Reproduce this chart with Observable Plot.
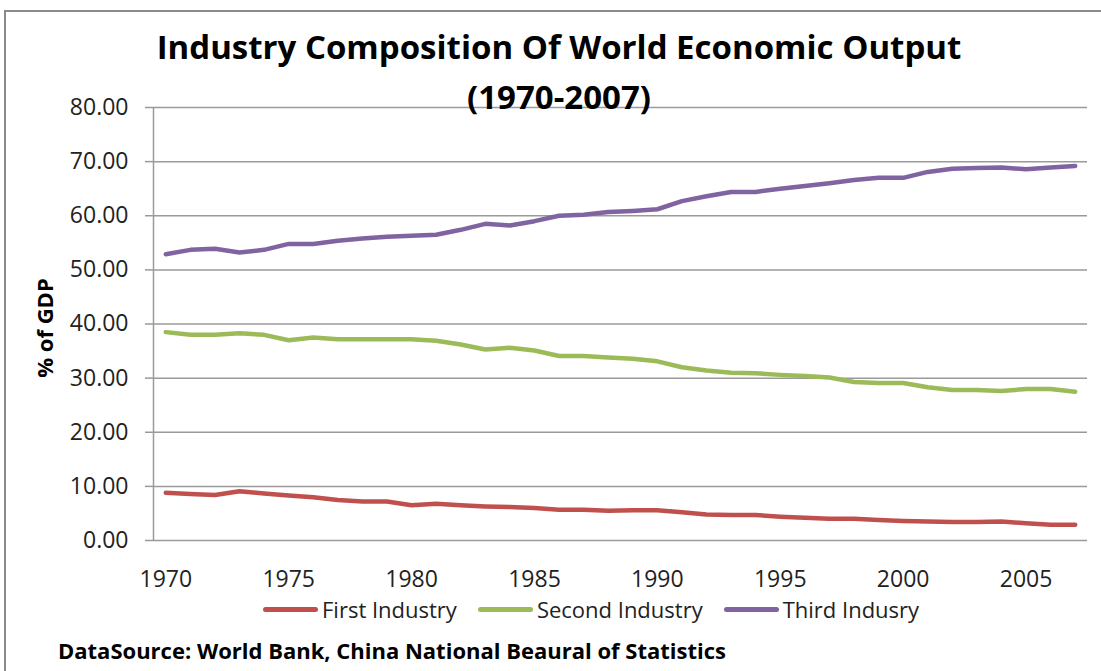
<!DOCTYPE html>
<html>
<head>
<meta charset="utf-8">
<script src="https://cdn.jsdelivr.net/npm/d3@7"></script>
<script src="https://cdn.jsdelivr.net/npm/@observablehq/plot@0.6"></script>
<style>
  html, body { margin: 0; padding: 0; background: #fff; }
  #wrap { position: relative; width: 1101px; height: 671px; overflow: hidden; font-family: "Open Sans", sans-serif; }
  #frame { position: absolute; left: 4px; top: 10px; width: 1200px; height: 800px; border-left: 2px solid #8a8a8a; border-top: 2px solid #8a8a8a; box-sizing: border-box; }
  #title { position: absolute; left: 0; top: 22px; width: 1118px; text-align: center; font-weight: bold; font-size: 33px; line-height: 50px; color: #000; pointer-events: none; z-index: 2; }
  #chart { position: absolute; left: 0; top: 0; }
  #legend { position: absolute; left: 263px; top: 594px; display: flex; gap: 21px; align-items: center; font-size: 22px; color: #222; }
  .item { display: flex; align-items: center; gap: 4px; }
  .sw { width: 55px; height: 5px; border-radius: 3px; }
  #caption { position: absolute; left: 58px; top: 635px; font-weight: bold; font-size: 22px; color: #000; }
</style>
</head>
<body>
<div id="wrap">
  <div id="frame"></div>
  <div id="chart"></div>
  <div id="title">Industry Composition Of World Economic Output<br>(1970-2007)</div>
  <div id="legend"></div>
  <div id="caption">DataSource: World Bank, China National Beaural of Statistics</div>
</div>
<script>
const years = [1970,1971,1972,1973,1974,1975,1976,1977,1978,1979,
               1980,1981,1982,1983,1984,1985,1986,1987,1988,1989,
               1990,1991,1992,1993,1994,1995,1996,1997,1998,1999,
               2000,2001,2002,2003,2004,2005,2006,2007];
const firstIndustry = [8.8,8.6,8.4,9.1,8.7,8.3,8.0,7.5,7.2,7.2,
                       6.5,6.8,6.5,6.3,6.2,6.0,5.7,5.7,5.5,5.6,
                       5.6,5.2,4.8,4.7,4.7,4.4,4.2,4.0,4.0,3.8,
                       3.6,3.5,3.4,3.4,3.5,3.2,2.9,2.9];
const secondIndustry = [38.5,38.0,38.0,38.3,38.0,37.0,37.5,37.2,37.2,37.2,
                        37.2,36.9,36.2,35.3,35.6,35.1,34.1,34.1,33.8,33.6,
                        33.1,32.0,31.4,31.0,30.9,30.6,30.4,30.1,29.3,29.1,
                        29.1,28.3,27.8,27.8,27.6,28.0,28.0,27.5];
const thirdIndustry = [52.9,53.7,53.9,53.2,53.7,54.8,54.8,55.4,55.8,56.1,
                       56.3,56.5,57.4,58.5,58.2,59.0,60.0,60.2,60.7,60.9,
                       61.2,62.7,63.6,64.4,64.4,65.0,65.5,66.0,66.6,67.0,
                       67.0,68.1,68.7,68.8,68.9,68.6,68.9,69.2];
const seriesNames = ["First Industry", "Second Industry", "Third Indusry"];
const seriesColors = ["#C0504D", "#9BBB59", "#8064A2"];
const xTicks = [1970, 1975, 1980, 1985, 1990, 1995, 2000, 2005];
const yTicks = [0, 10, 20, 30, 40, 50, 60, 70, 80];
const yLabel = "% of GDP";

const seriesValues = [firstIndustry, secondIndustry, thirdIndustry];
const rows = [];
seriesNames.forEach((name, i) => {
  years.forEach((yr, j) => rows.push({series: name, year: yr, value: seriesValues[i][j]}));
});

const plot = Plot.plot({
  width: 1101,
  height: 600,
  marginLeft: 153,
  marginRight: 14,
  marginTop: 107,
  marginBottom: 60,
  style: {fontFamily: "'Open Sans', sans-serif", fontSize: "23px", color: "#222", background: "transparent"},
  x: {domain: [years[0] - 0.5, years[years.length - 1] + 0.5]},
  y: {domain: [0, 80]},
  color: {domain: seriesNames, range: seriesColors},
  marks: [
    Plot.gridY(yTicks, {stroke: "#9a9a9a", strokeOpacity: 1, strokeWidth: 1.5}),
    Plot.ruleX([years[0] - 0.5], {stroke: "#9a9a9a", strokeWidth: 1.5}),
    Plot.axisY({ticks: yTicks, tickFormat: d3.format(".2f"), tickSize: 8, tickPadding: 17, stroke: "#9a9a9a", strokeWidth: 1.5, fill: "#222", label: null}),
    Plot.axisX({ticks: xTicks, tickFormat: d3.format("d"), tickSize: 0, tickPadding: 30, fill: "#222", label: null}),
    Plot.text([yLabel], {frameAnchor: "left", textAnchor: "middle", rotate: -90, dx: -108, dy: 4, fontWeight: "bold", fontSize: 22, fill: "#000"}),
    Plot.line(rows, {x: "year", y: "value", z: "series", stroke: "series", strokeWidth: 4.5, strokeLinecap: "round", strokeLinejoin: "round", curve: "linear"})
  ]
});
document.getElementById("chart").appendChild(plot);

const legend = document.getElementById("legend");
seriesNames.forEach((name, i) => {
  const item = document.createElement("div");
  item.className = "item";
  const sw = document.createElement("span");
  sw.className = "sw";
  sw.style.background = seriesColors[i];
  const label = document.createElement("span");
  label.textContent = name;
  item.appendChild(sw);
  item.appendChild(label);
  legend.appendChild(item);
});
</script>
</body>
</html>
